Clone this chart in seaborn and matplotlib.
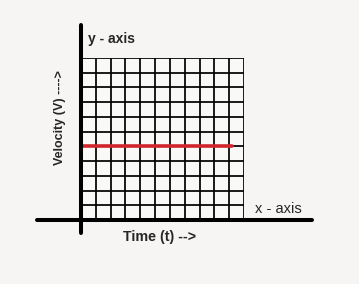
import matplotlib
matplotlib.use("Agg")
import matplotlib.pyplot as plt
import seaborn as sns
import pandas as pd

# Data
time_values = [0, 10.2]
velocity_values = [5, 5]
grid_ticks = list(range(0, 12))
x_axis_label = "Time (t) -->"
y_axis_label = "Velocity (V) ---->"
x_axis_name = "x - axis"
y_axis_name = "y - axis"

sns.set_theme(style="white")
plt.rcParams['font.family'] = ['Liberation Sans', 'DejaVu Sans']

W, H = 359, 284
fig = plt.figure(figsize=(W / 100, H / 100), dpi=100, facecolor="#f6f5f4")
ax = fig.add_axes([81 / W, (H - 220) / H, 163 / W, 162 / H])
ax.set_facecolor("#f9f9f8")

ax.set_xlim(0, 11)
ax.set_ylim(0, 11)
ax.set_xticks(grid_ticks)
ax.set_yticks(grid_ticks)
ax.tick_params(length=0, labelbottom=False, labelleft=False)
ax.grid(True, color="black", linewidth=1.25)
for s in ax.spines.values():
    s.set_visible(False)
ax.set_axisbelow(True)

df = pd.DataFrame({"t": time_values, "v": velocity_values})
sns.lineplot(data=df, x="t", y="v", ax=ax, color="#d0262b", linewidth=2.6, zorder=5)
ax.set_xlabel("")
ax.set_ylabel("")

# Main axis lines
ax.axhline(0, xmin=-2.97 / 11, xmax=15.6 / 11, color="black", linewidth=2.9, clip_on=False, zorder=6)
ax.axvline(0, ymin=-0.9 / 11, ymax=13.25 / 11, color="black", linewidth=2.9, clip_on=False, zorder=6)

ax.text(0.45, 12.3, y_axis_name, fontsize=10, fontweight="bold", ha="left", va="center", clip_on=False)
ax.text(13.35, 0.75, x_axis_name, fontsize=10.5, ha="center", va="center", clip_on=False)
ax.text(5.33, -1.15, x_axis_label, fontsize=10.3, fontweight="bold", ha="center", va="center", clip_on=False)
ax.text(-1.42, 6.96, y_axis_label, fontsize=9, fontweight="bold", ha="center", va="center",
        rotation=90, clip_on=False)

fig.savefig("out.png", dpi=100, facecolor=fig.get_facecolor())
